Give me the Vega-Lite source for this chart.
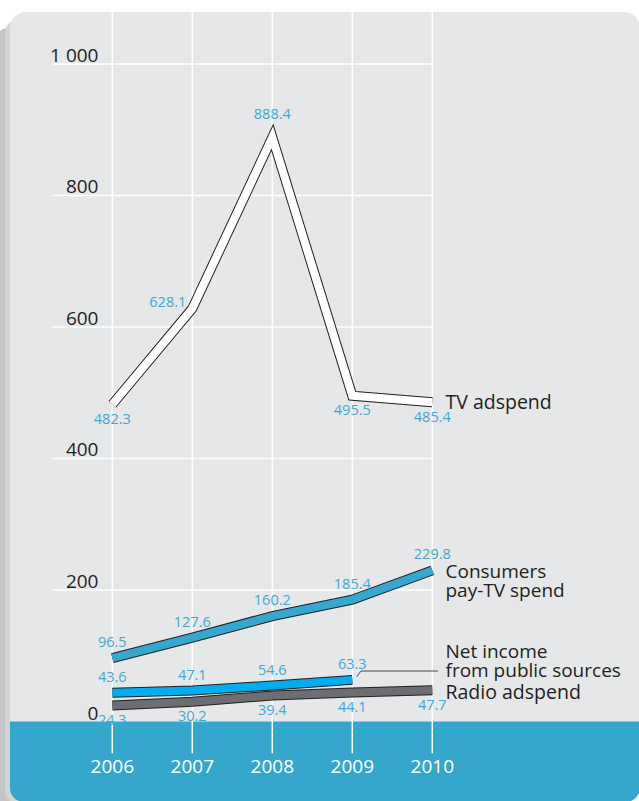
{
  "$schema": "https://vega.github.io/schema/vega-lite/v6.json",
  "width": 639,
  "height": 801,
  "padding": 0,
  "autosize": {"type": "none"},
  "background": "#ffffff",
  "config": {
    "view": {"stroke": null},
    "axis": {"disable": true},
    "legend": {"disable": true},
    "font": "Open Sans",
    "text": {"font": "Open Sans"}
  },
  "datasets": {
    "series": [
      {"series": "TV adspend", "year": 2006, "value": 482.3},
      {"series": "TV adspend", "year": 2007, "value": 628.1},
      {"series": "TV adspend", "year": 2008, "value": 888.4},
      {"series": "TV adspend", "year": 2009, "value": 495.5},
      {"series": "TV adspend", "year": 2010, "value": 485.4},
      {"series": "Consumers pay-TV spend", "year": 2006, "value": 96.5},
      {"series": "Consumers pay-TV spend", "year": 2007, "value": 127.6},
      {"series": "Consumers pay-TV spend", "year": 2008, "value": 160.2},
      {"series": "Consumers pay-TV spend", "year": 2009, "value": 185.4},
      {"series": "Consumers pay-TV spend", "year": 2010, "value": 229.8},
      {"series": "Net income from public sources", "year": 2006, "value": 43.6},
      {"series": "Net income from public sources", "year": 2007, "value": 47.1},
      {"series": "Net income from public sources", "year": 2008, "value": 54.6},
      {"series": "Net income from public sources", "year": 2009, "value": 63.3},
      {"series": "Radio adspend", "year": 2006, "value": 24.3},
      {"series": "Radio adspend", "year": 2007, "value": 30.2},
      {"series": "Radio adspend", "year": 2008, "value": 39.4},
      {"series": "Radio adspend", "year": 2009, "value": 44.1},
      {"series": "Radio adspend", "year": 2010, "value": 47.7}
    ],
    "years": [{"year": 2006}, {"year": 2007}, {"year": 2008}, {"year": 2009}, {"year": 2010}],
    "ticks": [
      {"v": 0, "label": "0"},
      {"v": 200, "label": "200"},
      {"v": 400, "label": "400"},
      {"v": 600, "label": "600"},
      {"v": 800, "label": "800"},
      {"v": 1000, "label": "1 000"}
    ],
    "one": [{}]
  },
  "data": {"name": "series"},
  "layer": [
    {
      "data": {"name": "one"},
      "mark": {"type": "rect", "fill": "#c4c5c7", "cornerRadius": 14},
      "encoding": {
        "x": {"datum": 2004.53, "type": "quantitative", "scale": {"domain": [2004.596, 2012.584], "nice": false, "zero": false}},
        "x2": {"datum": 2004.97},
        "y": {"datum": -125, "type": "quantitative", "scale": {"domain": [-120.9, 1097.3], "nice": false, "zero": false}},
        "y2": {"datum": 1054.8}
      }
    },
    {
      "data": {"name": "one"},
      "mark": {"type": "rect", "fill": "#d3d4d6", "cornerRadius": 14},
      "encoding": {
        "x": {"datum": 2004.66, "type": "quantitative"},
        "x2": {"datum": 2004.97},
        "y": {"datum": -125, "type": "quantitative"},
        "y2": {"datum": 1066.9}
      }
    },
    {
      "data": {"name": "one"},
      "mark": {"type": "rect", "fill": "#e6e7e8", "cornerRadius": 16},
      "encoding": {
        "x": {"datum": 2004.721, "type": "quantitative"},
        "x2": {"datum": 2012.596},
        "y": {"datum": -122.4, "type": "quantitative"},
        "y2": {"datum": 1079.1}
      }
    },
    {
      "data": {"name": "one"},
      "mark": {"type": "rect", "fill": "#36a7cc", "cornerRadiusBottomLeft": 14, "cornerRadiusBottomRight": 14},
      "encoding": {
        "x": {"datum": 2004.721, "type": "quantitative"},
        "x2": {"datum": 2012.596},
        "y": {"datum": -122.4, "type": "quantitative"},
        "y2": {"datum": 0}
      }
    },
    {
      "data": {"name": "years"},
      "mark": {"type": "rule", "stroke": "#ffffff", "strokeWidth": 1.5},
      "encoding": {
        "x": {"field": "year", "type": "quantitative"},
        "y": {"datum": -48.4, "type": "quantitative"},
        "y2": {"datum": 1079.1}
      }
    },
    {
      "data": {"name": "ticks"},
      "transform": [{"filter": "datum.v > 0"}],
      "mark": {"type": "rule", "stroke": "#ffffff", "strokeWidth": 1.5},
      "encoding": {
        "y": {"field": "v", "type": "quantitative"},
        "x": {"datum": 2005.252, "type": "quantitative"},
        "x2": {"datum": 2010}
      }
    },
    {
      "data": {"name": "ticks"},
      "mark": {"type": "text", "align": "right", "baseline": "alphabetic", "dy": -2, "fontSize": 19, "fill": "#231f20"},
      "encoding": {
        "y": {"field": "v", "type": "quantitative"},
        "x": {"datum": 2005.827, "type": "quantitative"},
        "text": {"field": "label"}
      }
    },
    {
      "data": {"name": "years"},
      "mark": {"type": "text", "align": "center", "baseline": "alphabetic", "fontSize": 19, "fill": "#ffffff"},
      "encoding": {
        "x": {"field": "year", "type": "quantitative"},
        "y": {"datum": -78.8, "type": "quantitative"},
        "text": {"field": "year", "type": "nominal"}
      }
    },
    {
      "mark": {"type": "line", "stroke": "#231f20", "strokeWidth": 10, "strokeCap": "butt", "strokeJoin": "miter", "strokeMiterLimit": 10},
      "encoding": {
        "x": {"field": "year", "type": "quantitative", "axis": null},
        "y": {"field": "value", "type": "quantitative", "axis": null},
        "detail": {"field": "series"}
      }
    },
    {
      "mark": {"type": "line", "strokeWidth": 8, "strokeCap": "butt", "strokeJoin": "miter", "strokeMiterLimit": 10},
      "encoding": {
        "x": {"field": "year", "type": "quantitative"},
        "y": {"field": "value", "type": "quantitative"},
        "color": {
          "field": "series",
          "type": "nominal",
          "legend": null,
          "scale": {
            "domain": ["TV adspend", "Consumers pay-TV spend", "Net income from public sources", "Radio adspend"],
            "range": ["#ffffff", "#36a8ce", "#00aeef", "#6d6e71"]
          }
        }
      }
    },
    {
      "transform": [{"filter": "datum.series === 'Consumers pay-TV spend' || datum.series === 'Net income from public sources'"}],
      "mark": {"type": "text", "align": "center", "baseline": "middle", "dy": -15, "fontSize": 14.5, "fill": "#3fa9d5"},
      "encoding": {
        "x": {"field": "year", "type": "quantitative"},
        "y": {"field": "value", "type": "quantitative"},
        "text": {"field": "value", "type": "quantitative", "format": ".1f"}
      }
    },
    {
      "transform": [{"filter": "datum.series === 'Radio adspend' || (datum.series === 'TV adspend' && (datum.year === 2006 || datum.year >= 2009))"}],
      "mark": {"type": "text", "align": "center", "baseline": "middle", "dy": 15.5, "fontSize": 14.5, "fill": "#3fa9d5"},
      "encoding": {
        "x": {"field": "year", "type": "quantitative"},
        "y": {"field": "value", "type": "quantitative"},
        "text": {"field": "value", "type": "quantitative", "format": ".1f"}
      }
    },
    {
      "transform": [{"filter": "datum.series === 'TV adspend' && datum.year === 2007"}],
      "mark": {"type": "text", "align": "center", "baseline": "middle", "dx": -24.5, "dy": -6, "fontSize": 14.5, "fill": "#3fa9d5"},
      "encoding": {
        "x": {"field": "year", "type": "quantitative"},
        "y": {"field": "value", "type": "quantitative"},
        "text": {"field": "value", "type": "quantitative", "format": ".1f"}
      }
    },
    {
      "transform": [{"filter": "datum.series === 'TV adspend' && datum.year === 2008"}],
      "mark": {"type": "text", "align": "center", "baseline": "middle", "dy": -22, "fontSize": 14.5, "fill": "#3fa9d5"},
      "encoding": {
        "x": {"field": "year", "type": "quantitative"},
        "y": {"field": "value", "type": "quantitative"},
        "text": {"field": "value", "type": "quantitative", "format": ".1f"}
      }
    },
    {
      "data": {"name": "one"},
      "mark": {"type": "text", "align": "left", "baseline": "alphabetic", "fontSize": 19.5, "fill": "#231f20", "text": "TV adspend"},
      "encoding": {
        "x": {"datum": 2010.165, "type": "quantitative"},
        "y": {"datum": 475.3, "type": "quantitative"}
      }
    },
    {
      "data": {"name": "one"},
      "mark": {"type": "text", "align": "left", "baseline": "alphabetic", "fontSize": 19, "lineHeight": 19.5, "fill": "#231f20", "text": ["Consumers", "pay-TV spend"]},
      "encoding": {
        "x": {"datum": 2010.165, "type": "quantitative"},
        "y": {"datum": 218.7, "type": "quantitative"}
      }
    },
    {
      "data": {"name": "one"},
      "mark": {"type": "text", "align": "left", "baseline": "alphabetic", "fontSize": 19, "lineHeight": 19.5, "fill": "#231f20", "text": ["Net income", "from public sources"]},
      "encoding": {
        "x": {"datum": 2010.165, "type": "quantitative"},
        "y": {"datum": 96.6, "type": "quantitative"}
      }
    },
    {
      "data": {"name": "one"},
      "mark": {"type": "text", "align": "left", "baseline": "alphabetic", "fontSize": 19.5, "fill": "#231f20", "text": "Radio adspend"},
      "encoding": {
        "x": {"datum": 2010.165, "type": "quantitative"},
        "y": {"datum": 34.2, "type": "quantitative"}
      }
    },
    {
      "data": {"name": "one"},
      "mark": {"type": "rule", "stroke": "#231f20", "strokeWidth": 0.8},
      "encoding": {
        "x": {"datum": 2009.055, "type": "quantitative"},
        "x2": {"datum": 2009.109},
        "y": {"datum": 68.1, "type": "quantitative"},
        "y2": {"datum": 76.8}
      }
    },
    {
      "data": {"name": "one"},
      "mark": {"type": "rule", "stroke": "#231f20", "strokeWidth": 0.8},
      "encoding": {
        "x": {"datum": 2009.109, "type": "quantitative"},
        "x2": {"datum": 2010.071},
        "y": {"datum": 76.8, "type": "quantitative"}
      }
    }
  ]
}
